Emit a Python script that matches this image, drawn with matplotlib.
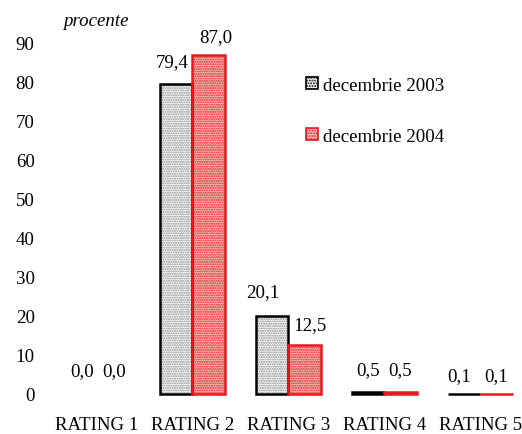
import matplotlib
matplotlib.use("Agg")
import matplotlib.pyplot as plt
from matplotlib.patches import Patch
import numpy as np

categories = ["RATING 1", "RATING 2", "RATING 3", "RATING 4", "RATING 5"]
series_names = ["decembrie 2003", "decembrie 2004"]
dec2003 = [0.0, 79.4, 20.1, 0.5, 0.1]
dec2004 = [0.0, 87.0, 12.5, 0.5, 0.1]
yticks = [0, 10, 20, 30, 40, 50, 60, 70, 80, 90]

plt.rcParams['font.family'] = ['Liberation Serif', 'DejaVu Serif']
plt.rcParams['hatch.linewidth'] = 1.0
FS = 13.6

fig = plt.figure(figsize=(5.22, 4.35), dpi=100)
ax = fig.add_axes([50/522, 1-395/435, 470/522, (395-36)/435])

x = np.arange(len(categories))
w = 0.339

def draw(xs, vals, face, hatchcol, edge):
    lws = [1.8 if v > 0 else 0 for v in vals]
    ax.bar(xs, vals, w, color=face, edgecolor=hatchcol, hatch='.......', linewidth=0, zorder=2)
    bars = ax.bar(xs, vals, w, fill=False, edgecolor=edge, linewidth=lws, zorder=3)
    for b in bars:
        b.set_clip_on(False)

draw(x - w/2, dec2003, 'white', '#8a8a8a', 'black')
draw(x + w/2, dec2004, '#ffc4c4', '#e41515', '#e8191c')

fmt = lambda v: f"{v:.1f}".replace('.', ',')
# label offsets (points) per bar: (dx, dy)
off03 = [(1.5, 16.5), (-3, 16.5), (-6.5, 17), (0, 16.5), (-3, 13)]
off04 = [(1, 16.5), (5, 13), (3.5, 14.5), (0, 16.5), (0, 13)]
for i in range(len(categories)):
    ax.annotate(fmt(dec2003[i]), (x[i] - w/2, dec2003[i]), xytext=off03[i],
                textcoords='offset points', ha='center', va='center', fontsize=FS)
    ax.annotate(fmt(dec2004[i]), (x[i] + w/2, dec2004[i]), xytext=off04[i],
                textcoords='offset points', ha='center', va='center', fontsize=FS)

ax.set_xlim(-0.485, 4.416)
ax.set_ylim(0, 92)
ax.set_yticks(yticks)
ax.set_yticklabels([str(t) for t in yticks], fontsize=FS)
ax.set_xticks(x)
ax.set_xticklabels(categories, fontsize=FS)
ax.tick_params(axis='x', length=0, pad=16)
ax.tick_params(axis='y', length=0, pad=11)
for s in ax.spines.values():
    s.set_visible(False)

handles = [Patch(facecolor='white', edgecolor='black', hatch='......', linewidth=1.2),
           Patch(facecolor='#ffc0c0', edgecolor='#e8191c', hatch='......', linewidth=1.2)]
ax.legend(handles, series_names, loc='upper left', bbox_to_anchor=(0.509, 0.93),
          frameon=False, fontsize=FS, handlelength=0.6, handleheight=0.6,
          handletextpad=0.3, labelspacing=1.8)

fig.text(63/522, 1-22/435, "procente", style='italic', fontsize=FS, va='center', ha='left')

fig.savefig("out.png", dpi=100)
